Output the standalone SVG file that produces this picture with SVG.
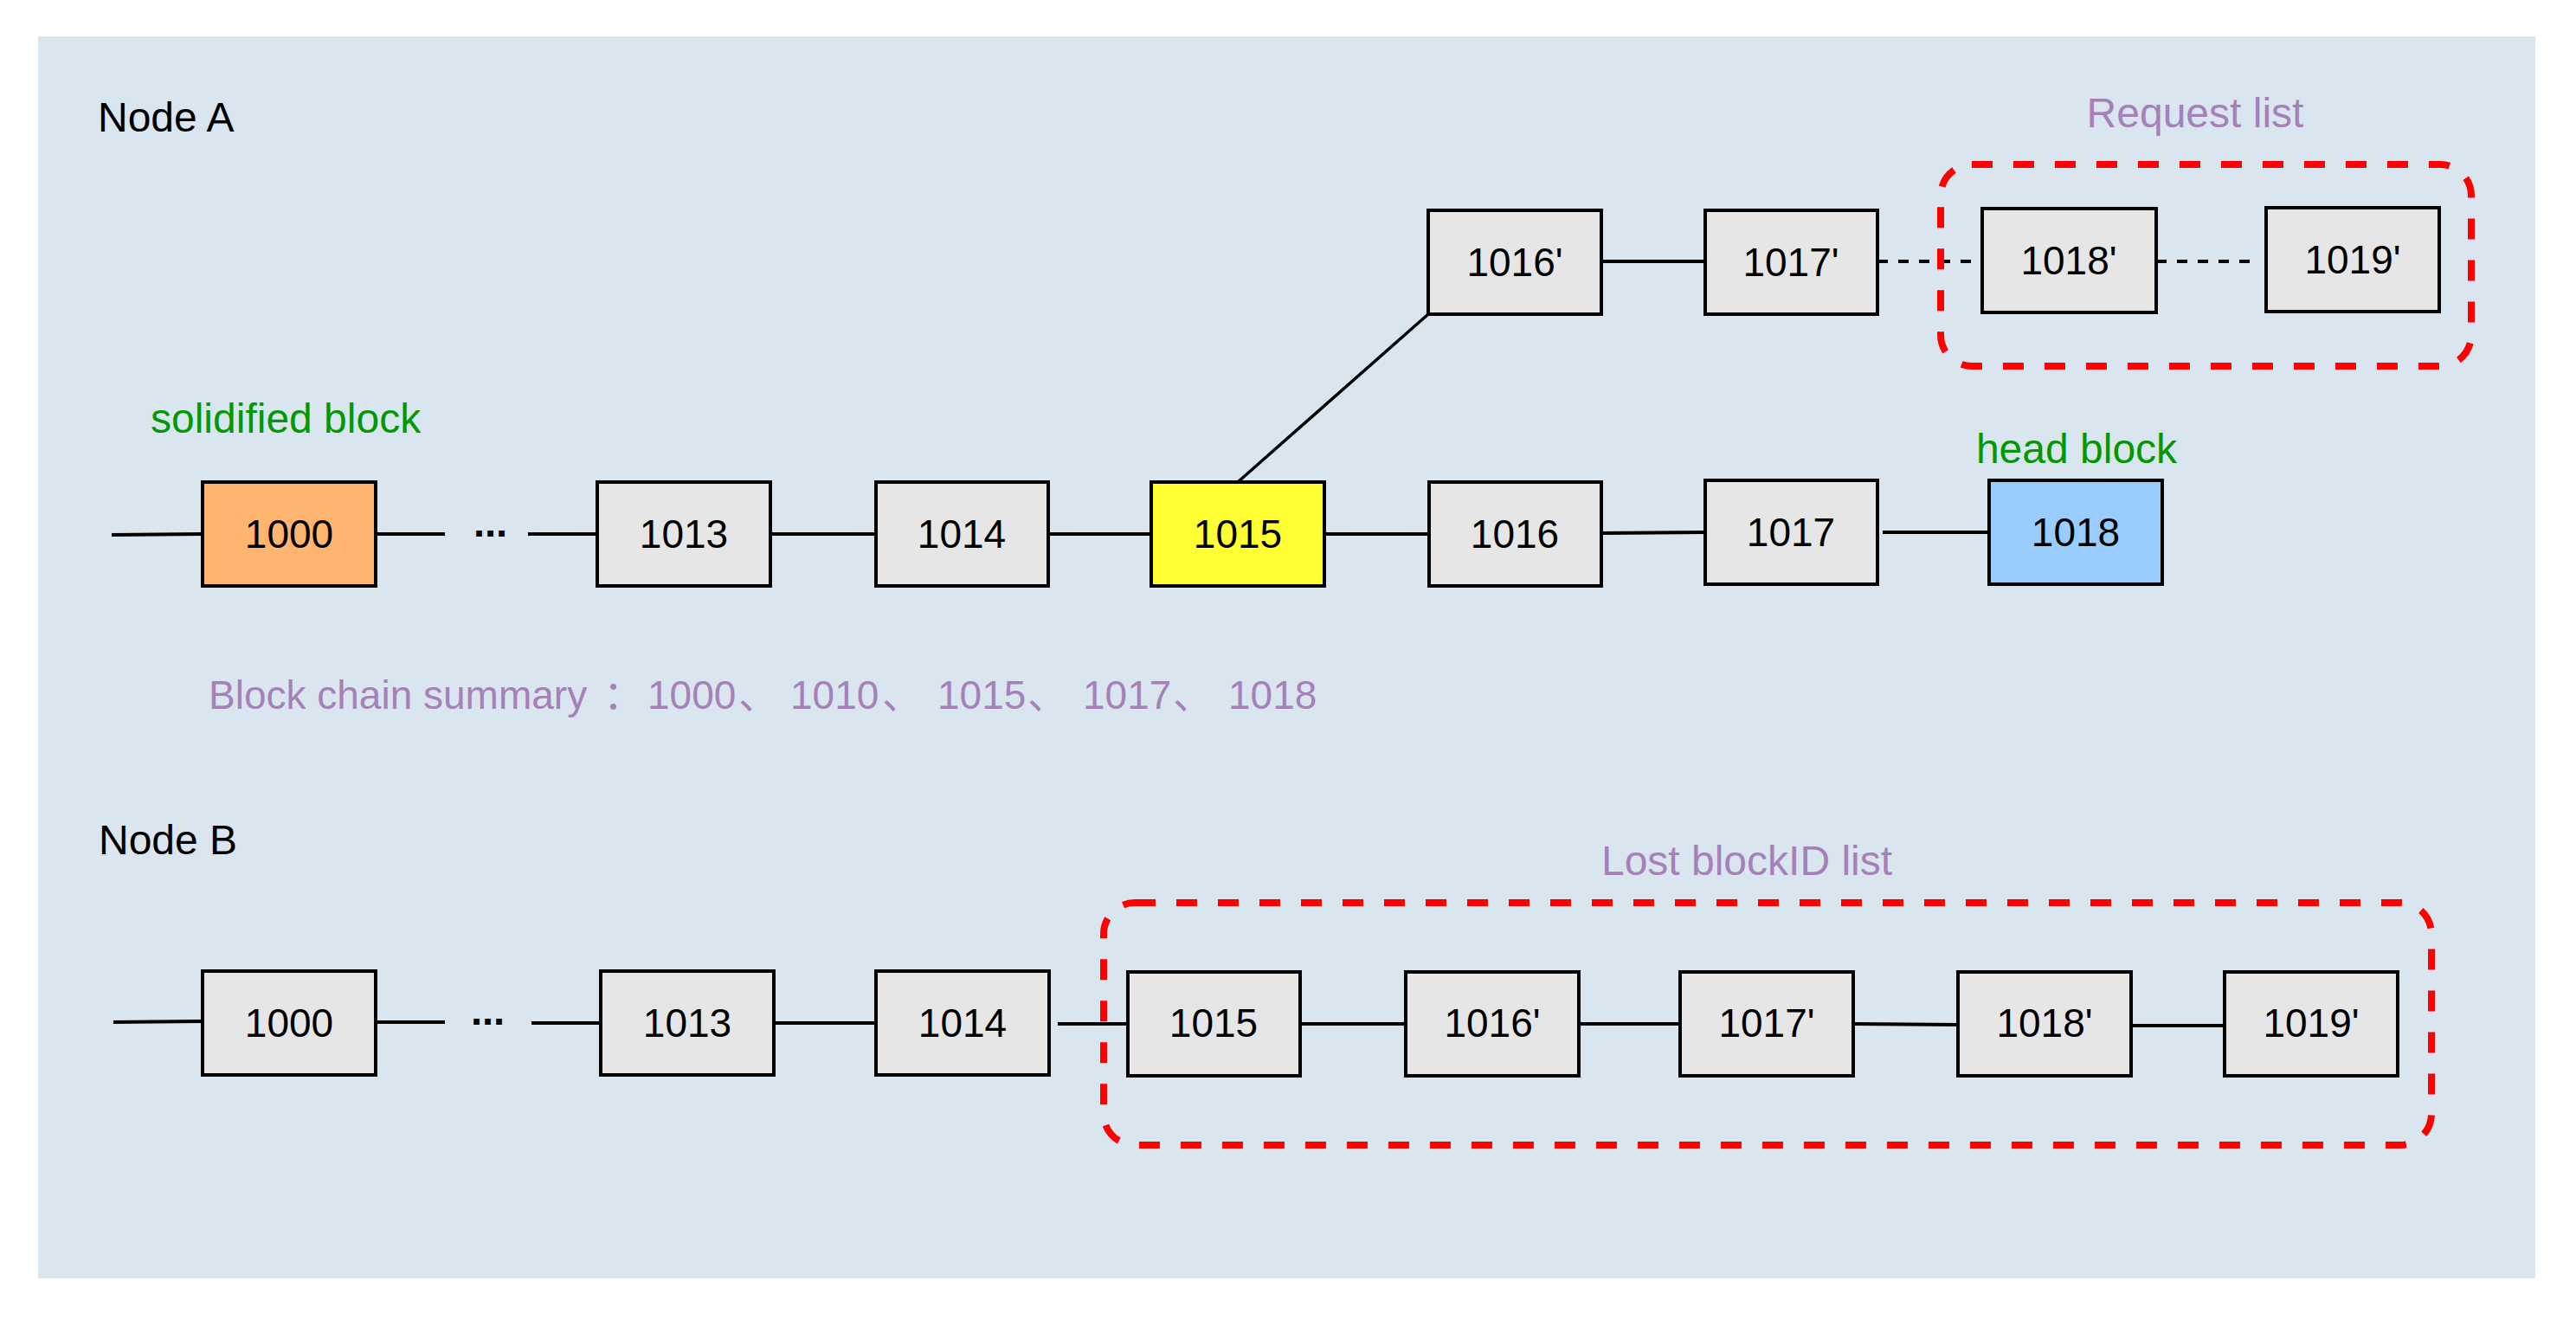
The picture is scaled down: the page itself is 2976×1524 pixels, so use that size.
<svg xmlns="http://www.w3.org/2000/svg" width="2976" height="1524" viewBox="0 0 2976 1524">
<style>
.box rect{stroke:#000;stroke-width:4}
.box text{font-family:"Liberation Sans",Arial,sans-serif;font-size:46px;text-anchor:middle;fill:#000}
.g{fill:#e6e6e6}
.lbl{font-family:"Liberation Sans",Arial,"Noto Sans CJK SC",sans-serif;font-size:48px}
.dots{font-family:"Liberation Sans",Arial,sans-serif;font-size:47px;font-weight:bold;fill:#000}
#connectors line{stroke:#000;stroke-width:4}
#connectors .dash{stroke-dasharray:12 12}
.red{fill:none;stroke:#ff0000;stroke-width:8;stroke-dasharray:24 24}
</style>
<rect x="0" y="0" width="2976" height="1524" fill="#ffffff"/>
<rect x="44" y="42" width="2885" height="1435" fill="#dae6ef"/>

<g id="connectors">
<line x1="129" y1="618" x2="234" y2="617"/>
<line x1="434" y1="617" x2="514" y2="617"/>
<line x1="610" y1="617" x2="690" y2="617"/>
<line x1="890" y1="617" x2="1012" y2="617"/>
<line x1="1211" y1="617" x2="1330" y2="617"/>
<line x1="1530" y1="617" x2="1651" y2="617"/>
<line x1="1850" y1="616" x2="1970" y2="615"/>
<line x1="2175" y1="615" x2="2298" y2="615"/>
<line x1="1430" y1="557" x2="1650" y2="363" style="stroke-width:3.5"/>
<line x1="1850" y1="302" x2="1970" y2="302"/>
<line class="dash" x1="2169" y1="302" x2="2281" y2="302"/>
<line class="dash" x1="2491" y1="302" x2="2606" y2="302"/>
<line x1="131" y1="1181" x2="234" y2="1180"/>
<line x1="434" y1="1181" x2="514" y2="1181"/>
<line x1="614" y1="1182" x2="694" y2="1182"/>
<line x1="894" y1="1182" x2="1012" y2="1182"/>
<line x1="1222" y1="1183" x2="1303" y2="1183"/>
<line x1="1502" y1="1183" x2="1624" y2="1183"/>
<line x1="1824" y1="1183" x2="1941" y2="1183"/>
<line x1="2141" y1="1183" x2="2262" y2="1184"/>
<line x1="2462" y1="1185" x2="2570" y2="1185"/>
</g>

<text class="dots" x="547" y="620">...</text>
<text class="dots" x="544" y="1184">...</text>

<g id="a1000" class="box"><rect x="234" y="557" width="200" height="120" fill="#ffb570"/><text x="334" y="633">1000</text></g>
<g id="a1013" class="box"><rect class="g" x="690" y="557" width="200" height="120"/><text x="790" y="633">1013</text></g>
<g id="a1014" class="box"><rect class="g" x="1012" y="557" width="199" height="120"/><text x="1111" y="633">1014</text></g>
<g id="a1015" class="box"><rect x="1330" y="557" width="200" height="120" fill="#ffff33"/><text x="1430" y="633">1015</text></g>
<g id="a1016" class="box"><rect class="g" x="1651" y="557" width="199" height="120"/><text x="1750" y="633">1016</text></g>
<g id="a1017" class="box"><rect class="g" x="1970" y="555" width="199" height="120"/><text x="2069" y="631">1017</text></g>
<g id="a1018" class="box"><rect x="2298" y="555" width="200" height="120" fill="#99ccff"/><text x="2398" y="631">1018</text></g>
<g id="a1016p" class="box"><rect class="g" x="1650" y="243" width="200" height="120"/><text x="1750" y="319">1016'</text></g>
<g id="a1017p" class="box"><rect class="g" x="1970" y="243" width="199" height="120"/><text x="2069" y="319">1017'</text></g>
<g id="a1018p" class="box"><rect class="g" x="2290" y="241" width="201" height="120"/><text x="2390" y="317">1018'</text></g>
<g id="a1019p" class="box"><rect class="g" x="2618" y="240" width="200" height="120"/><text x="2718" y="316">1019'</text></g>

<g id="b1000" class="box"><rect class="g" x="234" y="1122" width="200" height="120"/><text x="334" y="1198">1000</text></g>
<g id="b1013" class="box"><rect class="g" x="694" y="1122" width="200" height="120"/><text x="794" y="1198">1013</text></g>
<g id="b1014" class="box"><rect class="g" x="1012" y="1122" width="200" height="120"/><text x="1112" y="1198">1014</text></g>
<g id="b1015" class="box"><rect class="g" x="1303" y="1123" width="199" height="120"/><text x="1402" y="1198">1015</text></g>
<g id="b1016p" class="box"><rect class="g" x="1624" y="1123" width="200" height="120"/><text x="1724" y="1198">1016'</text></g>
<g id="b1017p" class="box"><rect class="g" x="1941" y="1123" width="200" height="120"/><text x="2041" y="1198">1017'</text></g>
<g id="b1018p" class="box"><rect class="g" x="2262" y="1123" width="200" height="120"/><text x="2362" y="1198">1018'</text></g>
<g id="b1019p" class="box"><rect class="g" x="2570" y="1123" width="200" height="120"/><text x="2670" y="1198">1019'</text></g>

<g id="request-list"><rect class="red" x="2242" y="190" width="613" height="233" rx="36" ry="36"/></g>
<g id="lost-list"><rect class="red" x="1275" y="1043" width="1534" height="280" rx="36" ry="36"/></g>

<text class="lbl" x="113" y="152" fill="#000">Node A</text>
<text class="lbl" x="114" y="987" fill="#000">Node B</text>
<text class="lbl" x="174" y="500" fill="#009900">solidified block</text>
<text class="lbl" x="2399" y="535" fill="#009900" text-anchor="middle">head block</text>
<text class="lbl" x="2536" y="147" fill="#a680b8" text-anchor="middle">Request list</text>
<text class="lbl" x="2018" y="1011" fill="#a680b8" text-anchor="middle">Lost blockID list</text>
<text class="lbl" y="819" fill="#a680b8" style="font-size:46px"><tspan x="241">Block chain summary</tspan><tspan x="697">：</tspan><tspan x="748">1000</tspan><tspan x="853">、 </tspan><tspan x="913">1010</tspan><tspan x="1019">、 </tspan><tspan x="1083">1015</tspan><tspan x="1187">、 </tspan><tspan x="1251">1017</tspan><tspan x="1355">、 </tspan><tspan x="1419">1018</tspan></text>
</svg>
